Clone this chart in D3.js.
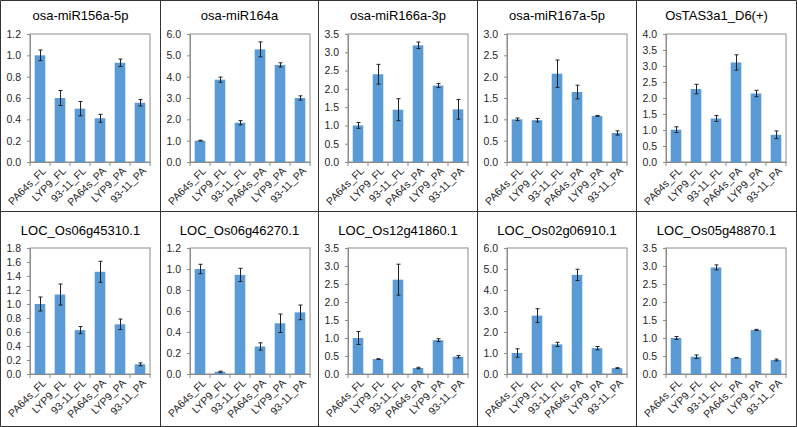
<!DOCTYPE html>
<html>
<head>
<meta charset="utf-8">
<script src="https://cdn.jsdelivr.net/npm/d3@7"></script>
<style>
  body { margin: 0; background: #fff; }
  svg { display: block; font-family: "Liberation Sans", Arial, sans-serif; }
</style>
</head>
<body>
<svg id="chart" width="797" height="427"></svg>
<script>
// sample names on the x axis
const categories = ["PA64s_FL", "LYP9_FL", "93-11_FL", "PA64s_PA", "LYP9_PA", "93-11_PA"];

// one panel per gene, left to right, top row then bottom row
const titles = [
  "osa-miR156a-5p", "osa-miR164a", "osa-miR166a-3p", "osa-miR167a-5p", "OsTAS3a1_D6(+)",
  "LOC_Os06g45310.1", "LOC_Os06g46270.1", "LOC_Os12g41860.1", "LOC_Os02g06910.1", "LOC_Os05g48870.1"
];

// relative expression
const means = [
  [1.00, 0.60, 0.50, 0.41, 0.93, 0.555],
  [1.00, 3.86, 1.84, 5.28, 4.55, 3.00],
  [1.00, 2.40, 1.43, 3.19, 2.09, 1.44],
  [1.00, 0.98, 2.07, 1.64, 1.08, 0.68],
  [1.01, 2.28, 1.36, 3.11, 2.14, 0.85],
  [1.00, 1.135, 0.627, 1.46, 0.71, 0.138],
  [1.00, 0.022, 0.944, 0.262, 0.483, 0.587],
  [1.00, 0.414, 2.62, 0.166, 0.94, 0.48],
  [1.00, 2.78, 1.41, 4.72, 1.23, 0.28],
  [1.00, 0.48, 2.96, 0.45, 1.225, 0.39]
];

// standard errors
const errors = [
  [0.05, 0.07, 0.067, 0.037, 0.035, 0.03],
  [0.02, 0.12, 0.10, 0.35, 0.10, 0.10],
  [0.08, 0.27, 0.30, 0.09, 0.055, 0.27],
  [0.03, 0.04, 0.32, 0.16, 0.01, 0.05],
  [0.09, 0.15, 0.09, 0.24, 0.10, 0.12],
  [0.10, 0.15, 0.05, 0.15, 0.075, 0.02],
  [0.045, 0.005, 0.063, 0.035, 0.088, 0.07],
  [0.18, 0.01, 0.43, 0.02, 0.04, 0.035],
  [0.20, 0.33, 0.10, 0.27, 0.08, 0.02],
  [0.04, 0.05, 0.07, 0.01, 0.015, 0.025]
];

// y axis top and tick step for each panel
const yMax = [1.2, 6.0, 3.5, 3.0, 4.0, 1.8, 1.2, 3.5, 6.0, 3.5];
const yStep = [0.2, 1.0, 0.5, 0.5, 0.5, 0.2, 0.2, 0.5, 1.0, 0.5];

const svg = d3.select("#chart");

// panel grid
const colX = [0.5, 160.5, 318.5, 477.5, 636.5, 796.5];
const rowY = [0.5, 211.5, 426.5];
const plotTop = [34, 248];
const plotBottom = [162, 374];
const titleY = [20, 235];
const plotW = 120;

const frameColor = "#8c8c8c";
const textColor = "#262626";

titles.forEach((title, i) => {
  const row = Math.floor(i / 5);
  const col = i % 5;
  const left = colX[col] + 29.5;
  const top = plotTop[row];
  const bottom = plotBottom[row];

  const g = svg.append("g");

  // title
  g.append("text")
    .attr("x", (colX[col] + colX[col + 1]) / 2)
    .attr("y", titleY[row])
    .attr("text-anchor", "middle")
    .attr("font-size", 13)
    .attr("fill", "#000")
    .text(title);

  const x = d3.scaleBand()
    .domain(categories)
    .range([left, left + plotW])
    .paddingInner(0.47)
    .paddingOuter(0.235);

  const y = d3.scaleLinear()
    .domain([0, yMax[i]])
    .range([bottom, top]);

  // plot frame
  g.append("rect")
    .attr("x", left)
    .attr("y", top)
    .attr("width", plotW)
    .attr("height", bottom - top)
    .attr("fill", "none")
    .attr("stroke", frameColor)
    .attr("stroke-width", 1);

  // y axis
  const ticks = d3.range(0, yMax[i] + yStep[i] / 2, yStep[i]);
  const yAxis = g.append("g")
    .attr("transform", `translate(${left},0)`)
    .call(d3.axisLeft(y).tickValues(ticks).tickFormat(d3.format(".1f")).tickSize(3).tickPadding(6));
  yAxis.select(".domain").attr("stroke", frameColor);
  yAxis.selectAll(".tick line").attr("stroke", frameColor);
  yAxis.selectAll("text").attr("font-size", 10.5).attr("fill", textColor).attr("font-family", null);

  // x axis with labels at band centres
  const xAxis = g.append("g")
    .attr("transform", `translate(0,${bottom})`)
    .call(d3.axisBottom(x).tickSize(0).tickPadding(0));
  xAxis.select(".domain").attr("stroke", frameColor);
  xAxis.selectAll("text")
    .attr("font-size", 10.5)
    .attr("fill", textColor)
    .attr("font-family", null)
    .attr("text-anchor", "end")
    .attr("dy", "0.35em")
    .attr("transform", "translate(4,7) rotate(-45)");

  // tick marks between categories
  g.append("g")
    .selectAll("line")
    .data(d3.range(categories.length + 1))
    .join("line")
    .attr("x1", (k) => x.range()[0] + k * x.step())
    .attr("x2", (k) => x.range()[0] + k * x.step())
    .attr("y1", bottom)
    .attr("y2", bottom + 4)
    .attr("stroke", frameColor);

  const rows = categories.map((c, k) => ({ c, m: means[i][k], e: errors[i][k] }));

  // bars
  g.append("g")
    .attr("fill", "#5b9bd5")
    .selectAll("rect")
    .data(rows)
    .join("rect")
    .attr("x", (d) => x(d.c))
    .attr("y", (d) => y(d.m))
    .attr("width", x.bandwidth())
    .attr("height", (d) => y(0) - y(d.m));

  // error bars
  const eb = g.append("g")
    .attr("stroke", "#222")
    .attr("stroke-width", 1)
    .selectAll("g")
    .data(rows)
    .join("g")
    .attr("transform", (d) => `translate(${Math.round(x(d.c) + x.bandwidth() / 2) + 0.5},0)`);
  eb.append("line")
    .attr("y1", (d) => y(d.m + d.e))
    .attr("y2", (d) => y(d.m - d.e));
  eb.append("line")
    .attr("x1", -2).attr("x2", 2)
    .attr("y1", (d) => y(d.m + d.e))
    .attr("y2", (d) => y(d.m + d.e));
  eb.append("line")
    .attr("x1", -2).attr("x2", 2)
    .attr("y1", (d) => y(d.m - d.e))
    .attr("y2", (d) => y(d.m - d.e));
});

// panel borders
svg.append("g")
  .attr("stroke", "#333")
  .attr("stroke-width", 1)
  .call((b) => {
    b.selectAll("line.v")
      .data(colX)
      .join("line")
      .attr("class", "v")
      .attr("x1", (d) => d).attr("x2", (d) => d)
      .attr("y1", rowY[0]).attr("y2", rowY[2]);
    b.selectAll("line.h")
      .data(rowY)
      .join("line")
      .attr("class", "h")
      .attr("x1", colX[0]).attr("x2", colX[5])
      .attr("y1", (d) => d).attr("y2", (d) => d);
  });
</script>
</body>
</html>
